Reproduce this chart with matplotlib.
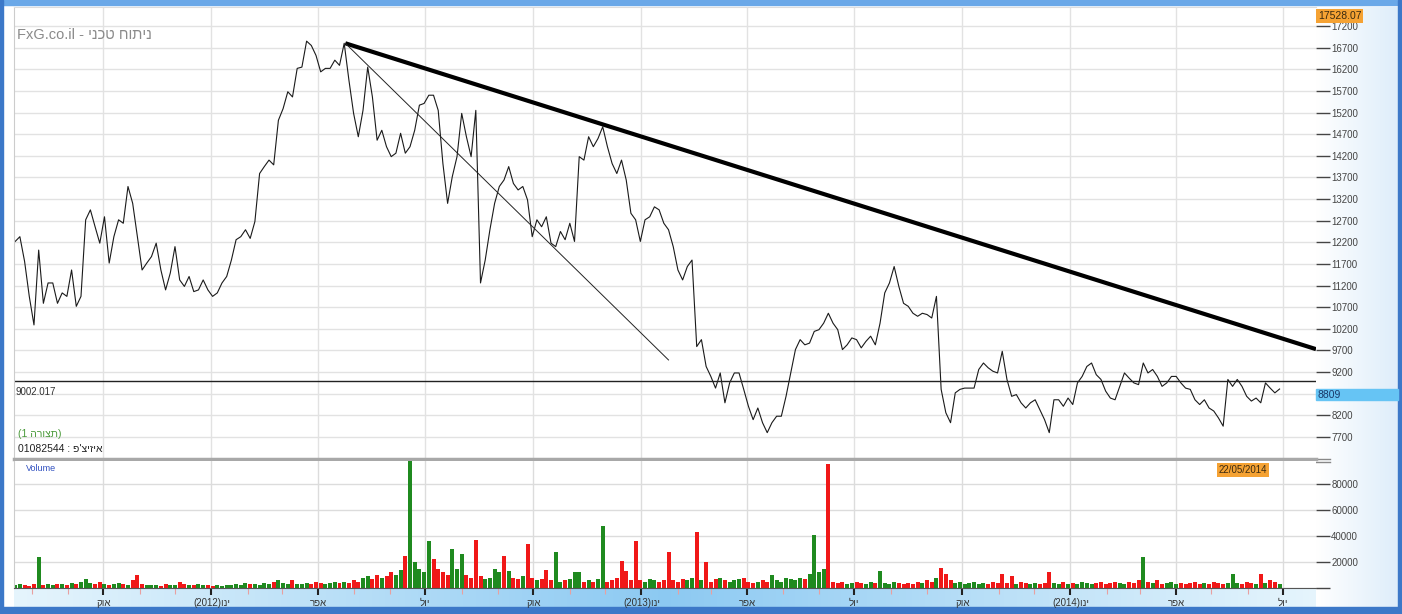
import numpy as np
import pandas as pd
import matplotlib
matplotlib.use("Agg")
import matplotlib.pyplot as plt
import matplotlib.dates as mdates
from matplotlib.patches import Rectangle

plt.rcParams['font.family'] = ['Liberation Sans', 'DejaVu Sans']

# ---- data (closing price sampled every 4 days, volume in thousands) ----
start_date = '2011-07-18'
step_days = 4

close = [
    12220, 12330, 11760, 10950, 10290, 12020, 10790, 11260, 11260, 10790,
    11030, 10950, 11560, 10720, 10950, 12720, 12950, 12560, 12180, 12790,
    11720, 12330, 12720, 12640, 13490, 13100, 12330, 11560, 11720, 11870,
    12180, 11560, 11100, 11490, 12100, 11330, 11180, 11410, 11060, 11100,
    11330, 11100, 10950, 11030, 11260, 11410, 11790, 12260, 12330, 12490,
    12290, 12680, 13790, 13950, 14100, 13990, 15020, 15290, 15680, 15560,
    16220, 16250, 16850, 16750, 16520, 16140, 16220, 16220, 16410, 16290,
    16800, 15950, 15180, 14640, 15250, 16250, 15560, 14560, 14790, 14410,
    14180, 14260, 14720, 14260, 14410, 14790, 15370, 15410, 15600, 15600,
    15250, 14020, 13100, 13720, 14180, 15180, 14640, 14180, 15250, 11260,
    11790, 12490, 13100, 13490, 13640, 13950, 13560, 13410, 13490, 13180,
    12330, 12720, 12560, 12790, 12180, 12100, 12450, 12260, 12640, 12220,
    14180, 14100, 14640, 14410, 14600, 14870, 14410, 14020, 13790, 14100,
    13640, 12870, 12720, 12220, 12720, 12790, 13020, 12950,
    12640, 12490, 12100, 11560, 11330, 11640, 11790, 9790, 9950, 9330,
    9100, 8830, 9180, 8490, 8950, 9180, 9180, 8800, 8410, 8100,
    8370, 8030, 7800, 8030, 8180, 8180, 8640, 9180, 9720, 9950,
    9830, 9870, 10140, 10180, 10330, 10560, 10330, 10180, 9720, 9830,
    9990, 9950, 9760, 9910, 10030, 9830, 10330, 11030, 11260, 11640,
    11180, 10790, 10720, 10560, 10490, 10560, 10530, 10450, 10950, 8800,
    8260, 8030, 8720, 8800, 8830, 8830, 8830, 9260,
    9410, 9300, 9220, 9180, 9680, 9030, 8640, 8680, 8490, 8370,
    8490, 8560, 8330, 8100, 7800, 8560, 8560, 8410, 8600, 8450,
    8950, 9100, 9330, 9410, 9140, 9030, 8760, 8600, 8560, 8870,
    9180, 9060, 8950, 8910, 9410, 9180, 9260, 9100, 8870, 8950,
    9100, 9100, 8950, 8830, 8800, 8560, 8450, 8560, 8370, 8300,
    8140, 7950, 9030, 8870, 9030, 8870, 8640, 8530, 8600, 8490,
    8950, 8830, 8720, 8809,
]

volume_k = [
    2, 3, 2, 1.5, 3, 24, 2, 3, 2.5, 3,
    3, 2, 4, 3, 5, 7, 4, 3, 5, 3,
    2, 3, 4, 3, 2, 6, 10, 3, 2, 2,
    2, 1.5, 3, 2, 2, 5, 3, 2, 2, 3,
    2, 2, 1.5, 2, 1.5, 2, 2, 3, 2, 4,
    3, 3, 2, 4, 3, 5, 6, 4, 3, 6,
    3, 3, 4, 3, 5, 4, 3, 4, 5, 4,
    5, 4, 6, 5, 8, 9, 7, 10, 8, 9,
    12, 10, 14, 25, 100, 20, 15, 12, 36, 22,
    15, 12, 10, 30, 15, 26, 10, 8, 37, 9,
    7, 8, 15, 12, 25, 13, 8, 7, 9, 34,
    8, 6, 7, 14, 6, 28, 5, 6, 7, 12,
    12, 5, 6, 5, 7, 48, 5, 6, 8, 21,
    13, 6, 36, 6, 5, 7, 6, 5, 6, 28,
    6, 5, 7, 6, 8, 43, 6, 20, 5, 7,
    8, 6, 5, 6, 7, 8, 5, 4, 5, 6,
    5, 10, 6, 5, 8, 7, 6, 8, 7, 11,
    41, 12, 15, 96, 5, 4, 5, 3, 4, 5,
    4, 3, 5, 4, 13, 4, 3, 5, 4, 3,
    4, 3, 5, 4, 6, 5, 8, 15.5, 11, 6,
    4, 5, 3, 4, 5, 3, 4, 3, 5, 4,
    11, 4, 9, 3, 5, 4, 3, 4, 3, 4,
    12, 4, 3, 5, 3, 4, 3, 5, 4, 3,
    4, 5, 3, 4, 5, 4, 3, 5, 4, 6,
    24, 5, 4, 6, 3, 4, 5, 3, 4, 3,
    4, 5, 3, 4, 3, 5, 4, 3, 4, 11,
    4, 3, 5, 4, 3, 11, 4, 6, 5, 3,
]

green_bars = [5, 84, 88, 93, 95, 115, 119, 125, 161, 170, 184, 240, 259]
red_bars = [26, 83, 89, 98, 104, 109, 113, 129, 130, 132, 139, 145, 147,
            173, 197, 210, 220, 265]

quarter_ticks = ['2011-10-01', '2012-01-01', '2012-04-01', '2012-07-01',
                 '2012-10-01', '2013-01-01', '2013-04-01', '2013-07-01',
                 '2013-10-01', '2014-01-01', '2014-04-01', '2014-07-01']
# hebrew written in visual (left to right) order, matplotlib has no bidi
quarter_labels = ['קוא', '(2012)וני', 'רפא', 'לוי',
                  'קוא', '(2013)וני', 'רפא', 'לוי',
                  'קוא', '(2014)וני', 'רפא', 'לוי']
price_ticks = [7700, 8200, 8700, 9200, 9700, 10200, 10700, 11200, 11700, 12200,
               12700, 13200, 13700, 14200, 14700, 15200, 15700, 16200, 16700, 17200]
vol_ticks = [0, 20000, 40000, 60000, 80000]

hline_value = 9002.017
last_value = 8809
max_label = '17528.07'
cursor_date = '22/05/2014'
trend_thick = [('2012-04-24', 16800), ('2014-07-29', 9730)]
trend_thin = [('2012-04-24', 16800), ('2013-01-24', 9480)]

title = 'FxG.co.il - ' + 'ניתוח טכני'[::-1]
config_label = '(1 ' + 'תצורה'[::-1] + ')'
symbol_label = '01082544 : ' + "איזיצ'פ"[::-1]

# ---- figure ----
W, H = 1402, 614
fig = plt.figure(figsize=(W / 100, H / 100), dpi=100)
fig.patch.set_facecolor('white')

bg = fig.add_axes([0, 0, 1, 1])
bg.set_xlim(0, W)
bg.set_ylim(H, 0)
bg.axis('off')

# right scale panel gradient
t = np.linspace(0, 1, 200)
grad = np.zeros((1, 200, 3))
grad[0, :, 0] = 1 - 0.13 * t
grad[0, :, 1] = 1 - 0.07 * t
grad[0, :, 2] = 1 - 0.02 * t
bg.imshow(grad, extent=(1316, 1398, 607, 7), aspect='auto')

# bottom date band gradient
w = 1 - np.abs(t - 0.5) / 0.5
band = np.zeros((1, 200, 3))
band[0, :, 0] = 0.90 - 0.35 * w
band[0, :, 1] = 0.96 - 0.17 * w
band[0, :, 2] = 0.99 - 0.04 * w
bg.imshow(band, extent=(14, 1316, 607, 589), aspect='auto')

# outer frame
bg.add_patch(Rectangle((0, 0), W, 5, color='#6aa8e8'))
bg.add_patch(Rectangle((0, 0), 3, H, color='#3c78c8'))
bg.add_patch(Rectangle((W - 4, 0), 4, H, color='#3c78c8'))
bg.add_patch(Rectangle((0, 607), W, 7, color='#3c78c8'))
for yy in (459, 462):
    bg.plot([1316, 1330], [yy, yy], color='#888888', lw=1)

dates = pd.date_range(start_date, periods=len(close), freq=f'{step_days}D')
qt = pd.to_datetime(quarter_ticks)
xlim = (pd.Timestamp('2011-07-17'), pd.Timestamp('2014-07-29'))

left, right = 14 / W, 1316 / W

# ---- price panel ----
ax1 = fig.add_axes([left, 1 - 459 / H, right - left, (459 - 7) / H])
ax1.set_facecolor('white')
ax1.plot(dates, close, color='#1a1a1a', lw=0.8)
ax1.axhline(hline_value, color='#222222', lw=1)
tx = pd.to_datetime([p[0] for p in trend_thick])
ax1.plot(tx, [p[1] for p in trend_thick], color='black', lw=3, solid_capstyle='butt')
tx = pd.to_datetime([p[0] for p in trend_thin])
ax1.plot(tx, [p[1] for p in trend_thin], color='#222222', lw=0.7)
ax1.set_xlim(*xlim)
ax1.set_ylim(7191, 17639)
ax1.set_yticks(price_ticks)
# the current-price box hides the 8700 label in the original
ax1.set_yticklabels(['' if v == 8700 else str(v) for v in price_ticks])
ax1.yaxis.tick_right()
ax1.tick_params(axis='y', length=10, width=1, color='#444444', labelsize=7,
                labelcolor='#444444', pad=1)
ax1.set_xticks(qt)
ax1.tick_params(axis='x', length=0, labelbottom=False)
ax1.grid(True, color='#e2e2e2', lw=1)
ax1.set_axisbelow(True)
ax1.spines['right'].set_visible(False)
ax1.spines['top'].set_color('#dddddd')
ax1.spines['left'].set_color('#cccccc')
ax1.spines['bottom'].set_color('#a8a8a8')
ax1.spines['bottom'].set_linewidth(2.5)

ax1.text(0.002, 0.937, title, transform=ax1.transAxes, fontsize=10.5, color='#8a8a8a',
         va='center', ha='left')
ax1.text(0.001, (hline_value - 7191) / (17639 - 7191) - 0.013, '9002.017',
         transform=ax1.transAxes, fontsize=7, color='#333333', va='top', ha='left')
ax1.text(0.003, 0.055, config_label, transform=ax1.transAxes, fontsize=7.5,
         color='#4a9a3a', va='center', ha='left')
ax1.text(0.003, 0.022, symbol_label, transform=ax1.transAxes, fontsize=7.5,
         color='#222222', va='center', ha='left')

# ---- volume panel ----
ax2 = fig.add_axes([left, 1 - 588 / H, right - left, (588 - 461) / H])
ax2.set_facecolor('white')
vol = np.array(volume_k) * 1000
up = np.r_[True, np.diff(close) >= 0]
colors = ['#1f8a1f' if u else '#f01818' for u in up]
for i in green_bars:
    colors[i] = '#1f8a1f'
for i in red_bars:
    colors[i] = '#f01818'
ax2.bar(dates, vol, width=3.4, color=colors, edgecolor='none', align='center')
ax2.set_xlim(*xlim)
ax2.set_ylim(0, 98000)
ax2.yaxis.tick_right()
ax2.set_yticks(vol_ticks)
ax2.set_yticklabels([''] + [str(v) for v in vol_ticks[1:]])
ax2.tick_params(axis='y', length=10, width=1, color='#444444', labelsize=7,
                labelcolor='#444444', pad=1)
ax2.set_xticks(qt)
ax2.set_xticklabels(quarter_labels)
ax2.tick_params(axis='x', length=5, width=1.5, color='#222222', labelsize=7,
                labelcolor='#333333', pad=2)
ax2.xaxis.set_minor_locator(mdates.MonthLocator())
ax2.tick_params(axis='x', which='minor', length=4, width=0.8, color='#e8a0a0')
ax2.grid(True, color='#dcdcdc', lw=1)
ax2.set_axisbelow(True)
ax2.spines['top'].set_visible(False)
ax2.spines['right'].set_visible(False)
ax2.spines['left'].set_color('#cccccc')
ax2.spines['bottom'].set_color('#555555')
ax2.text(0.009, 0.94, 'Volume', transform=ax2.transAxes, fontsize=6.5, color='#3050c0',
         va='center', ha='left')
ax2.text(pd.Timestamp('2014-05-28'), 91000, cursor_date, fontsize=7, color='#3a2a10',
         va='center', ha='center', bbox=dict(fc='#f5a233', ec='none', pad=1.2))

# value boxes on the right scale, drawn above the axes
fig.patches.append(Rectangle((1316 / W, 1 - 400 / H), 82 / W, 11 / H,
                             transform=fig.transFigure, color='#66c4f4', zorder=5))
fig.text(1318 / W, 1 - 394.5 / H, str(last_value), fontsize=7.5, color='#1a3a6a',
         va='center', ha='left', zorder=6)
fig.text(1318 / W, 1 - 16 / H, max_label, fontsize=7.5, color='#3a2a10',
         va='center', ha='left', zorder=6, bbox=dict(fc='#f5a233', ec='none', pad=1.2))

fig.savefig('out.png', dpi=100)
